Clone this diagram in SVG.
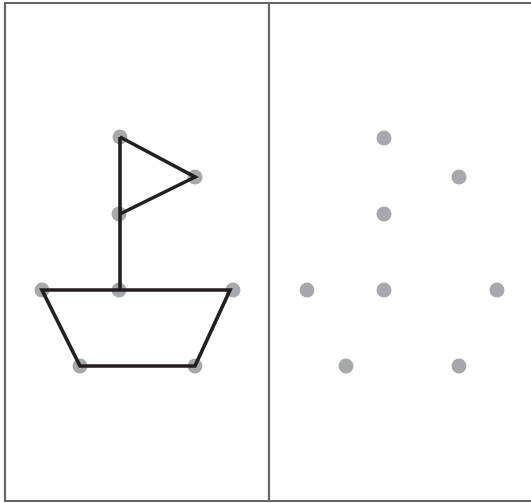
<svg xmlns="http://www.w3.org/2000/svg" width="531" height="503" viewBox="0 0 531 503">
<style>
.frame{stroke:#666666;stroke-width:2.2;fill:none}
.dot{fill:#a7a8ab}
.line{stroke:#231f20;stroke-width:3.6;fill:none;stroke-linejoin:miter}
</style>
<rect width="531" height="503" fill="#ffffff"/>
<g id="frame">
<path class="frame" d="M531 3 H5 V501 H531"/>
<line class="frame" x1="269" y1="3" x2="269" y2="501"/>
</g>
<g id="left-dots">
<circle class="dot" cx="120" cy="137" r="7.5"/>
<circle class="dot" cx="195" cy="177" r="7.5"/>
<circle class="dot" cx="119" cy="214" r="7.5"/>
<circle class="dot" cx="42" cy="290" r="7.5"/>
<circle class="dot" cx="119" cy="290" r="7.5"/>
<circle class="dot" cx="233" cy="290" r="7.5"/>
<circle class="dot" cx="80" cy="366" r="7.5"/>
<circle class="dot" cx="195" cy="366" r="7.5"/>
</g>
<g id="connectors">
<path class="line" d="M120 137 L195 177 L120 214"/>
<path class="line" d="M120 137 V290"/>
<path class="line" d="M42 290 H230 L195 366 H80 Z"/>
</g>
<g id="right-dots">
<circle class="dot" cx="384" cy="138" r="7.5"/>
<circle class="dot" cx="459" cy="177" r="7.5"/>
<circle class="dot" cx="384" cy="214" r="7.5"/>
<circle class="dot" cx="307" cy="290" r="7.5"/>
<circle class="dot" cx="384" cy="290" r="7.5"/>
<circle class="dot" cx="497" cy="290" r="7.5"/>
<circle class="dot" cx="346" cy="366" r="7.5"/>
<circle class="dot" cx="459" cy="366" r="7.5"/>
</g>
</svg>
